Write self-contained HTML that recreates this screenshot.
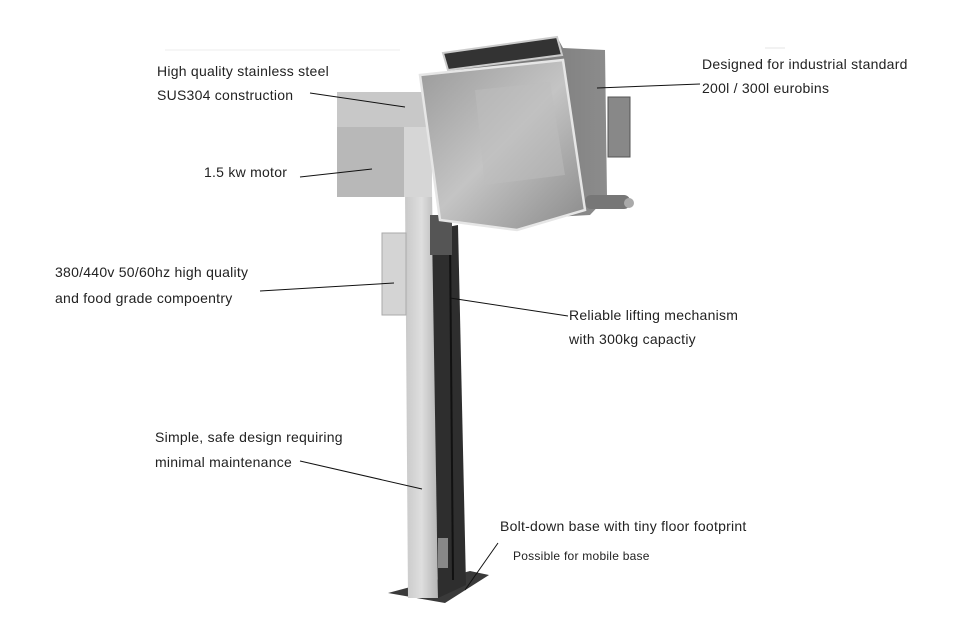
<!DOCTYPE html>
<html><head><meta charset="utf-8"><style>
html,body{margin:0;padding:0;background:#fff;}
body{width:978px;height:640px;position:relative;overflow:hidden;font-family:"Liberation Sans",sans-serif;color:#222;}
.t{position:absolute;font-size:14px;letter-spacing:0.25px;white-space:nowrap;line-height:16px;}
svg{position:absolute;left:0;top:0;}
</style></head><body>
<svg width="978" height="640" viewBox="0 0 978 640">
<defs>
<linearGradient id="col" x1="0" x2="1"><stop offset="0" stop-color="#c9c9c9"/><stop offset="0.5" stop-color="#dedede"/><stop offset="1" stop-color="#b5b5b5"/></linearGradient>
<linearGradient id="bin" x1="0" y1="0" x2="1" y2="1"><stop offset="0" stop-color="#9a9a9a"/><stop offset="0.5" stop-color="#c4c4c4"/><stop offset="1" stop-color="#8a8a8a"/></linearGradient>
<linearGradient id="binr" x1="0" x2="1"><stop offset="0" stop-color="#6a6a6a"/><stop offset="1" stop-color="#8c8c8c"/></linearGradient>
</defs>
<line x1="165" y1="50" x2="400" y2="50" stroke="#eee"/>
<line x1="765" y1="48" x2="785" y2="48" stroke="#e4e4e4"/>
<polygon points="388,593 470,571 489,575 445,603" fill="#3a3a3a"/>
<polygon points="405,190 432,190 438,598 408,598" fill="url(#col)"/>
<polygon points="432,230 458,225 466,585 438,598" fill="#2e2e2e"/>
<line x1="450" y1="240" x2="453" y2="580" stroke="#111" stroke-width="2"/>
<rect x="438" y="538" width="10" height="30" fill="#888"/>
<rect x="337" y="92" width="95" height="36" fill="#c8c8c8"/>
<rect x="337" y="127" width="67" height="70" fill="#b8b8b8"/>
<rect x="404" y="127" width="28" height="70" fill="#d6d6d6"/>
<rect x="382" y="233" width="24" height="82" fill="#d4d4d4" stroke="#aaa"/>
<rect x="430" y="215" width="22" height="40" fill="#555"/>
<polygon points="443,53 557,37 563,48 605,50 607,197 590,215 500,220" fill="url(#binr)"/>
<polygon points="443,53 557,37 562,55 448,70" fill="#333" stroke="#ccc" stroke-width="2"/>
<rect x="608" y="97" width="22" height="60" fill="#888" stroke="#555"/>
<rect x="585" y="195" width="45" height="14" rx="6" fill="#777"/>
<circle cx="629" cy="203" r="5" fill="#aaa"/>
<polygon points="420,75 563,60 585,210 517,230 440,220" fill="url(#bin)" stroke="#e6e6e6" stroke-width="2.5"/>
<polygon points="475,90 550,82 565,175 485,185" fill="#bdbdbd" opacity="0.5"/>
<g stroke="#111" stroke-width="1">
<line x1="310" y1="93" x2="405" y2="107"/>
<line x1="300" y1="177" x2="372" y2="169"/>
<line x1="260" y1="291" x2="394" y2="283"/>
<line x1="597" y1="88" x2="700" y2="84"/>
<line x1="450" y1="298" x2="568" y2="316"/>
<line x1="300" y1="461" x2="422" y2="489"/>
<line x1="498" y1="543" x2="465" y2="590"/>
</g>
</svg>
<div class="t" style="left:157px;top:63px">High quality stainless steel</div>
<div class="t" style="left:157px;top:87px">SUS304 construction</div>
<div class="t" style="left:204px;top:164px">1.5 kw motor</div>
<div class="t" style="left:55px;top:264px">380/440v 50/60hz high quality</div>
<div class="t" style="left:55px;top:290px">and food grade compoentry</div>
<div class="t" style="left:702px;top:56px">Designed for industrial standard</div>
<div class="t" style="left:702px;top:80px">200l / 300l eurobins</div>
<div class="t" style="left:569px;top:307px">Reliable lifting mechanism</div>
<div class="t" style="left:569px;top:331px">with 300kg capactiy</div>
<div class="t" style="left:155px;top:429px">Simple, safe design requiring</div>
<div class="t" style="left:155px;top:454px">minimal maintenance</div>
<div class="t" style="left:500px;top:518px">Bolt-down base with tiny floor footprint</div>
<div class="t" style="left:513px;top:548px;font-size:12px">Possible for mobile base</div>
</body></html>
